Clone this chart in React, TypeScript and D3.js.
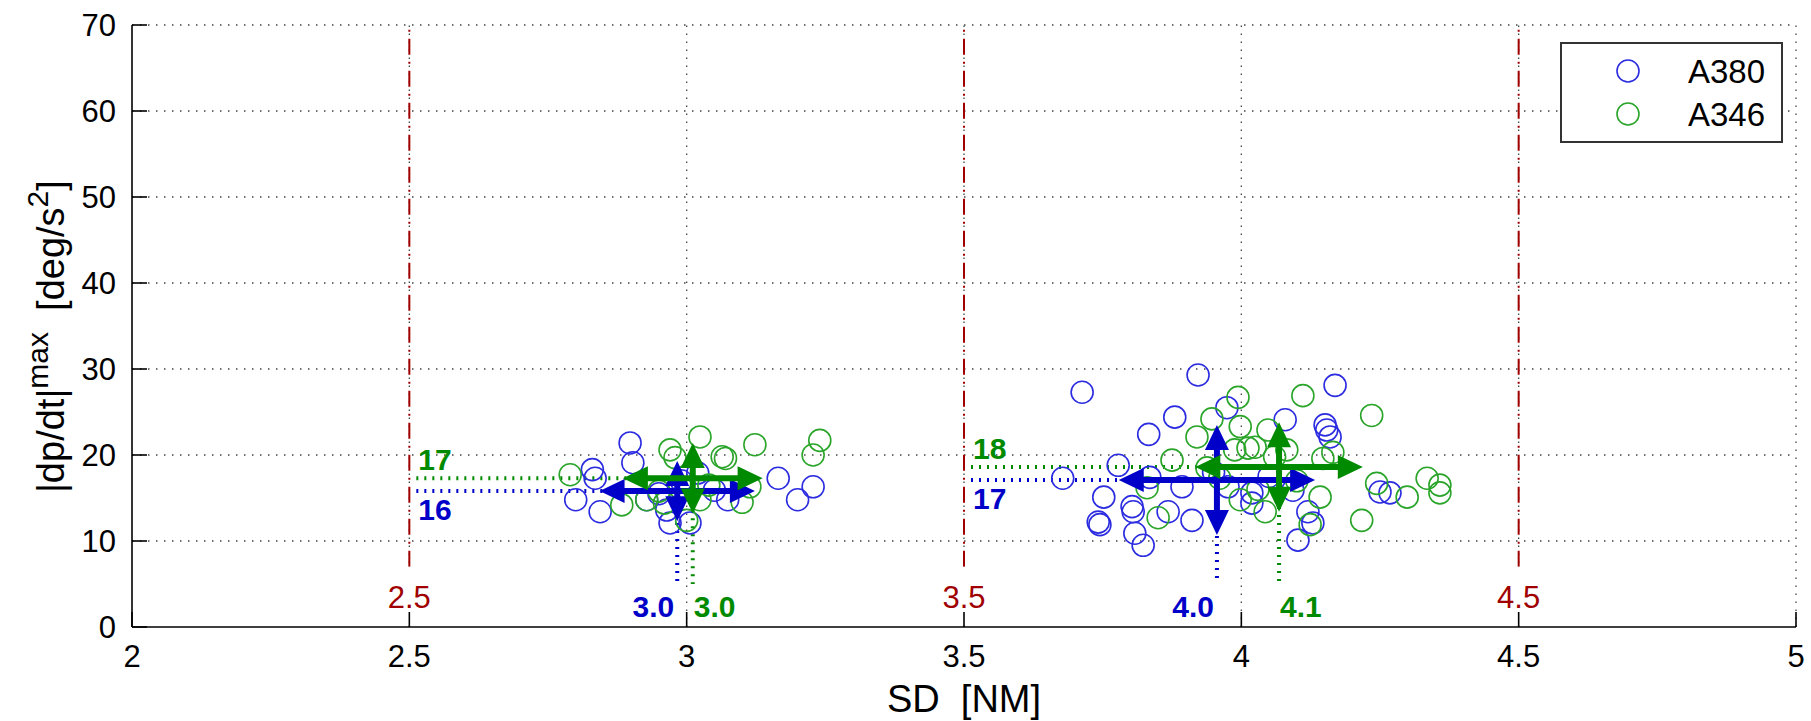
import React from 'react';
import * as d3 from 'd3';

// scatter points, SD [NM] vs |dp/dt|max [deg/s^2]
const a380Sd = [2.83, 2.835, 2.80, 2.844, 2.898, 2.903, 2.928, 2.964, 2.97, 3.006, 3.02, 3.05, 3.074, 3.165, 3.20, 3.228, 2.95, 2.99,
  3.713, 3.922, 3.88, 3.833, 3.778, 3.678, 3.752, 3.803, 3.805, 3.742, 3.745, 3.808, 3.823, 3.911, 3.868, 3.893, 3.835, 3.974, 3.976,
  4.169, 4.151, 4.154, 4.16, 4.079, 4.25, 4.268, 4.102, 4.12, 4.129, 4.019, 4.019, 4.093, 3.95, 4.05];
const a380Rate = [18.3, 17.3, 14.8, 13.4, 21.4, 19.1, 14.8, 13.6, 12.1, 12.1, 17.9, 15.9, 14.8, 17.3, 14.8, 16.3, 15.5, 17.0,
  27.3, 29.3, 24.4, 22.4, 18.8, 17.3, 15.1, 14.0, 13.4, 12.2, 11.9, 10.9, 9.5, 12.4, 13.4, 16.3, 17.4, 25.5, 16.3,
  28.1, 23.5, 22.9, 22.1, 24.1, 15.7, 15.6, 10.1, 13.4, 12.1, 15.6, 14.4, 15.9, 18.0, 17.5];

const a346Sd = [2.79, 2.883, 2.928, 2.96, 2.97, 2.979, 3.0, 3.024, 3.024, 3.064, 3.07, 3.10, 3.114, 3.123, 3.228, 3.24, 3.04, 2.95,
  3.875, 3.92, 3.947, 3.994, 3.83, 3.85, 3.938, 3.961, 4.111, 4.235, 3.998, 4.012, 4.025, 3.988, 4.048, 4.082, 4.147, 4.165,
  3.998, 4.043, 4.142, 4.124, 4.244, 4.299, 4.335, 4.358, 4.358, 4.217, 4.06, 4.03, 4.1];
const a346Rate = [17.7, 14.2, 14.8, 14.4, 20.6, 19.7, 12.4, 22.1, 14.8, 19.8, 19.6, 14.5, 16.3, 21.2, 20.0, 21.7, 16.5, 15.8,
  19.4, 22.1, 24.2, 26.7, 16.2, 12.7, 18.5, 17.3, 26.9, 24.6, 23.3, 20.8, 20.9, 20.6, 22.9, 20.6, 19.6, 20.3,
  14.8, 13.4, 15.1, 11.9, 16.7, 15.1, 17.3, 16.5, 15.6, 12.4, 19.8, 16.0, 17.0];

// group statistics (3 NM group, 4 NM group)
const a380MeanSd = [2.983, 3.956];
const a380StdSd = [0.14, 0.177];
const a380MeanRate = [15.8, 17.1];
const a380StdRate = [3.5, 6.4];
const a380SdLabels = ['3.0', '4.0'];
const a380RateLabels = ['16', '17'];

const a346MeanSd = [3.011, 4.068];
const a346StdSd = [0.126, 0.151];
const a346MeanRate = [17.3, 18.6];
const a346StdRate = [4.1, 5.2];
const a346SdLabels = ['3.0', '4.1'];
const a346RateLabels = ['17', '18'];

// separation minima
const refSd = [2.5, 3.5, 4.5];
const refStart = [2.5, 3.5];

const xTicks = [2, 2.5, 3, 3.5, 4, 4.5, 5];
const yTicks = [0, 10, 20, 30, 40, 50, 60, 70];

const W = 1811, H = 721;
const margin = {left: 132, right: 15, top: 25, bottom: 94};
const FONT = '"Liberation Sans", Arial, Helvetica, sans-serif';

const BLUE_M = '#2b2be0';
const GREEN_M = '#2aa52a';
const BLUE = '#0000c8';
const GREEN = '#008a00';
const RED = '#a00000';

function dblArrow(x1: number, y1: number, x2: number, y2: number, color: string, key: string) {
  // double headed arrow, pixel space
  const head = 25, hw = 12, sw = 6;
  const dx = x2 - x1, dy = y2 - y1;
  const len = Math.sqrt(dx * dx + dy * dy);
  const ux = dx / len, uy = dy / len;
  const px = -uy, py = ux;
  const tri = (tx: number, ty: number, dir: number) => {
    const bx = tx - dir * ux * head, by = ty - dir * uy * head;
    return [[tx, ty], [bx + px * hw, by + py * hw], [bx - px * hw, by - py * hw]]
      .map(p => p.join(',')).join(' ');
  };
  return (
    <g key={key}>
      <line x1={x1 + ux * head * 0.8} y1={y1 + uy * head * 0.8} x2={x2 - ux * head * 0.8} y2={y2 - uy * head * 0.8}
            stroke={color} strokeWidth={sw}/>
      <polygon points={tri(x1, y1, -1)} fill={color}/>
      <polygon points={tri(x2, y2, 1)} fill={color}/>
    </g>
  );
}

export default function App() {
  const x = d3.scaleLinear().domain([2, 5]).range([margin.left, W - margin.right]);
  const y = d3.scaleLinear().domain([0, 70]).range([H - margin.bottom, margin.top]);
  const x0 = x(2), x1 = x(5), y0 = y(0), y1 = y(70);

  const groups = [
    {name: 'A380', color: BLUE, mSd: a380MeanSd, sSd: a380StdSd, mR: a380MeanRate, sR: a380StdRate, sdL: a380SdLabels, rL: a380RateLabels},
    {name: 'A346', color: GREEN, mSd: a346MeanSd, sSd: a346StdSd, mR: a346MeanRate, sR: a346StdRate, sdL: a346SdLabels, rL: a346RateLabels},
  ];

  return (
    <svg width={W} height={H} style={{position: 'absolute', left: 0, top: 0, background: '#fff'}} fontFamily={FONT}>
      <rect width={W} height={H} fill="#fff"/>
      {/* grid */}
      <g stroke="#444" strokeWidth={1.3} strokeDasharray="1.5 6.5">
        {yTicks.filter(t => t > 0).map(t => <line key={'gy' + t} x1={x0} x2={x1} y1={y(t)} y2={y(t)}/>)}
        {xTicks.filter(t => t > 2).map(t => <line key={'gx' + t} x1={x(t)} x2={x(t)} y1={y0} y2={y1}/>)}
      </g>
      {/* reference lines */}
      {refSd.map(s => (
        <g key={'ref' + s}>
          <line x1={x(s)} x2={x(s)} y1={y(7)} y2={y1} stroke={RED} strokeWidth={2} strokeDasharray="16 7 2 7"/>
          <rect x={x(s) - 26} y={y(7)} width={52} height={y(0.8) - y(7)} fill="#fff"/>
          <text x={x(s)} y={y(2.2)} fill={RED} fontSize={31} textAnchor="middle">{s}</text>
        </g>
      ))}
      {/* mean guides */}
      {groups.map(g => g.mSd.map((m, i) => (
        <g key={'guide' + g.name + i} stroke={g.color} strokeWidth={4} strokeDasharray="2 6">
          <line x1={x(refStart[i]) + 7} x2={x(m)} y1={y(g.mR[i])} y2={y(g.mR[i])}/>
          <line x1={x(m)} x2={x(m)} y1={y(g.mR[i])} y2={y(5)}/>
        </g>
      )))}
      {/* scatter */}
      <g fill="none" stroke={BLUE_M} strokeWidth={1.6}>
        {a380Sd.map((s, i) => <circle key={'b' + i} cx={x(s)} cy={y(a380Rate[i])} r={11}/>)}
      </g>
      <g fill="none" stroke={GREEN_M} strokeWidth={1.6}>
        {a346Sd.map((s, i) => <circle key={'g' + i} cx={x(s)} cy={y(a346Rate[i])} r={11}/>)}
      </g>
      {/* mean +- std arrows */}
      {groups.map(g => g.mSd.map((m, i) => (
        <g key={'arr' + g.name + i}>
          {dblArrow(x(m - g.sSd[i]), y(g.mR[i]), x(m + g.sSd[i]), y(g.mR[i]), g.color, 'h')}
          {dblArrow(x(m), y(g.mR[i] + g.sR[i]), x(m), y(g.mR[i] - g.sR[i]), g.color, 'v')}
        </g>
      )))}
      {/* value labels */}
      {groups.map((g, gi) => g.mSd.map((m, i) => (
        <g key={'lab' + g.name + i} fill={g.color} fontWeight="bold" fontSize={30}>
          <text x={gi === 0 ? x(m) - 3 : x(m) + 1} y={y(1.2)} textAnchor={gi === 0 ? 'end' : 'start'}>{g.sdL[i]}</text>
          <text x={x(refStart[i]) + 9} y={gi === 0 ? y(g.mR[i]) + 29 : y(g.mR[i]) - 8}>{g.rL[i]}</text>
        </g>
      )))}
      {/* axes */}
      <g stroke="#000" strokeWidth={1.6}>
        <line x1={x0} x2={x0} y1={y0} y2={y1}/>
        <line x1={x0} x2={x1} y1={y0} y2={y0}/>
        {yTicks.map(t => <line key={'ty' + t} x1={x0} x2={x0 + 15} y1={y(t)} y2={y(t)}/>)}
        {xTicks.map(t => <line key={'tx' + t} x1={x(t)} x2={x(t)} y1={y0} y2={y0 - 15}/>)}
      </g>
      <g fontSize={31} fill="#000">
        {yTicks.map(t => <text key={'ly' + t} x={x0 - 16} y={y(t)} dy="0.36em" textAnchor="end">{t}</text>)}
        {xTicks.map(t => <text key={'lx' + t} x={x(t)} y={y0 + 40} textAnchor="middle">{d3.format('')(t)}</text>)}
      </g>
      <text x={(x0 + x1) / 2} y={712} fontSize={38} textAnchor="middle" style={{whiteSpace: 'pre'}}>{'SD  [NM]'}</text>
      <text transform={`translate(64,493) rotate(-90)`} fontSize={38} style={{whiteSpace: 'pre'}}>
        {'|dp/dt|'}<tspan dy={-16} fontSize={30}>max</tspan><tspan dy={16}>{'  [deg/s'}</tspan><tspan dy={-16} fontSize={30}>2</tspan><tspan dy={16}>]</tspan>
      </text>
      {/* legend */}
      <g>
        <rect x={1561} y={43} width={221} height={99} fill="#fff" stroke="#333" strokeWidth={2}/>
        <circle cx={1628} cy={71} r={11} fill="none" stroke={BLUE_M} strokeWidth={1.6}/>
        <circle cx={1628} cy={114} r={11} fill="none" stroke={GREEN_M} strokeWidth={1.6}/>
        <text x={1688} y={83} fontSize={33}>A380</text>
        <text x={1688} y={126} fontSize={33}>A346</text>
      </g>
    </svg>
  );
}
